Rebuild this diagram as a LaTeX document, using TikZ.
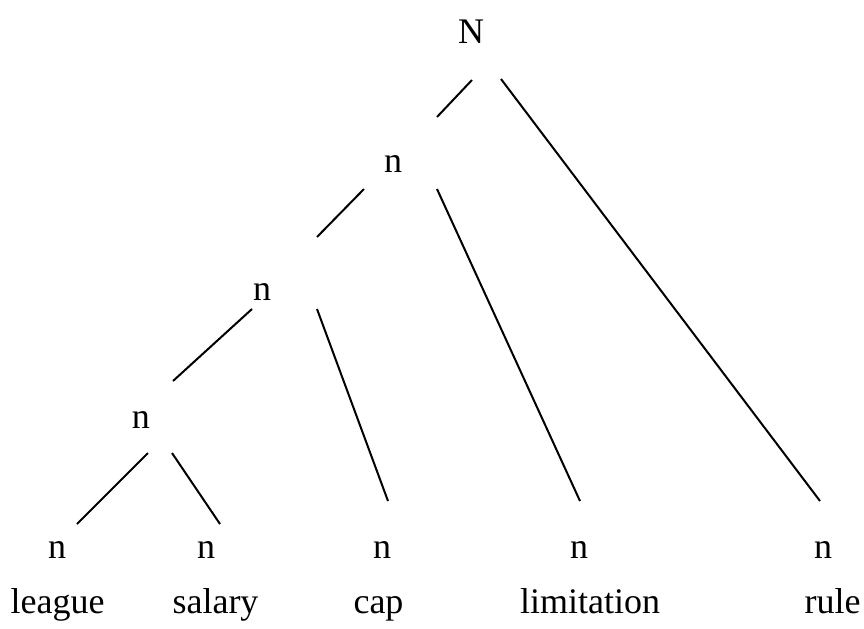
\documentclass[tikz,border=0pt]{standalone}
\usepackage{fontspec}
\setmainfont{Liberation Serif}
\begin{document}
\begin{tikzpicture}[x=0.5pt,y=-0.5pt,
  lbl/.style={anchor=base,inner sep=0pt,font=\fontsize{18}{22}\selectfont},
  edge/.style={line width=1pt}]
\useasboundingbox (0,0) rectangle (864,628);
% tree labels
\node[lbl] (N) at (471,43) {N};
\node[lbl] (n1) at (393,172) {n};
\node[lbl] (n2) at (262,300) {n};
\node[lbl] (n3) at (141,428) {n};
\node[lbl] (l1) at (57,558) {n};
\node[lbl] (l2) at (206,558) {n};
\node[lbl] (l3) at (382,558) {n};
\node[lbl] (l4) at (579,558) {n};
\node[lbl] (l5) at (823,558) {n};
% words
\node[lbl] (w1) at (57.5,613) {league};
\node[lbl] (w2) at (215.5,613) {salary};
\node[lbl] (w3) at (378.5,613) {cap};
\node[lbl] (w4) at (590,613) {limitation};
\node[lbl] (w5) at (832.5,613) {rule};
% connector end points
\coordinate (Na) at (472,80);  \coordinate (n1t) at (437,117);
\coordinate (Nb) at (501,79);  \coordinate (l5t) at (820,501);
\coordinate (n1a) at (364,189); \coordinate (n2t) at (317,237);
\coordinate (n1b) at (437,189); \coordinate (l4t) at (580,501);
\coordinate (n2a) at (252,309); \coordinate (n3t) at (173,381);
\coordinate (n2b) at (317,309); \coordinate (l3t) at (388,501);
\coordinate (n3a) at (148,453); \coordinate (l1t) at (77,524);
\coordinate (n3b) at (172,453); \coordinate (l2t) at (220,524);
\draw[edge] (Na) -- (n1t);
\draw[edge] (Nb) -- (l5t);
\draw[edge] (n1a) -- (n2t);
\draw[edge] (n1b) -- (l4t);
\draw[edge] (n2a) -- (n3t);
\draw[edge] (n2b) -- (l3t);
\draw[edge] (n3a) -- (l1t);
\draw[edge] (n3b) -- (l2t);
\end{tikzpicture}
\end{document}
